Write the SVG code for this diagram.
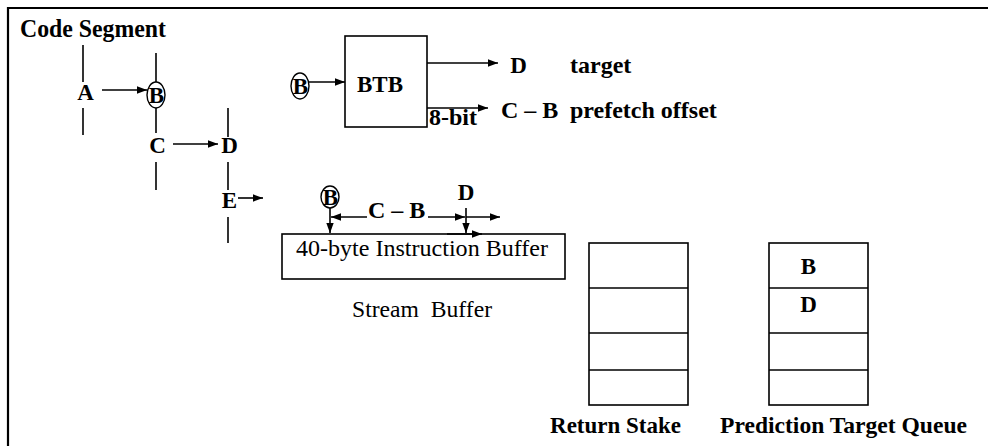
<svg xmlns="http://www.w3.org/2000/svg" width="988" height="446" viewBox="0 0 988 446">
<style>
.ln{stroke:#000;stroke-width:1.6;fill:none}
.ar{stroke:#000;stroke-width:1.6;fill:none;marker-end:url(#ah)}
.bx{stroke:#000;stroke-width:1.6;fill:#fff}
.el{stroke:#000;stroke-width:1.4;fill:none}
.b{font-family:"Liberation Serif","Times New Roman",serif;font-weight:bold;font-size:23px;fill:#000}
.c{text-anchor:middle}
.r{font-family:"Liberation Serif","Times New Roman",serif;font-size:24px;fill:#000}
</style>
<defs>
<marker id="ah" markerWidth="11" markerHeight="9" refX="10" refY="4.5" orient="auto" markerUnits="userSpaceOnUse">
<path d="M0,0.8 L10,4.5 L0,8.2 Z" fill="#000"/>
</marker>
</defs>
<rect width="988" height="446" fill="#fff"/>
<path d="M8,446 L8,8 L988,8" stroke="#000" stroke-width="2.2" fill="none"/>

<g id="code-segment">
<text class="b" x="20" y="37" style="font-size:25px" textLength="146" lengthAdjust="spacingAndGlyphs">Code Segment</text>
<line class="ln" x1="83" y1="45" x2="83" y2="82"/>
<line class="ln" x1="83" y1="108" x2="83" y2="135"/>
<text class="b c" x="85.5" y="100">A</text>
<line class="ln" x1="156" y1="53" x2="156" y2="82"/>
<line class="ln" x1="156" y1="108" x2="156" y2="133"/>
<ellipse class="el" cx="156" cy="95" rx="9" ry="13"/>
<text class="b c" x="156.5" y="103">B</text>
<text class="b c" x="157.5" y="153">C</text>
<line class="ln" x1="156" y1="162" x2="156" y2="190"/>
<line class="ln" x1="228" y1="108" x2="228" y2="137"/>
<text class="b c" x="229.5" y="153">D</text>
<line class="ln" x1="228" y1="162" x2="228" y2="190"/>
<text class="b c" x="229.5" y="208">E</text>
<line class="ln" x1="228" y1="217" x2="228" y2="243"/>
</g>

<g id="btb">
<ellipse class="el" cx="300" cy="86" rx="9" ry="13"/>
<text class="b c" x="300.5" y="94">B</text>
<rect class="bx" x="345" y="36" width="82" height="91"/>
<text class="b" x="357" y="92" textLength="46" lengthAdjust="spacingAndGlyphs">BTB</text>
<text class="b c" x="518.5" y="73">D</text>
<text class="b" x="570" y="73" style="font-size:24px">target</text>
<text class="b" x="429" y="125" style="font-size:24px">8-bit</text>
<text class="b" x="501" y="118" style="font-size:24px">C – B</text>
<text class="b" x="570" y="118" style="font-size:24px">prefetch offset</text>
</g>

<g id="stream-buffer">
<ellipse class="el" cx="330" cy="197" rx="9" ry="11"/>
<text class="b c" x="330.5" y="205">B</text>
<text class="b" x="368" y="218" style="font-size:24px">C – B</text>
<text class="b c" x="466" y="200">D</text>
<rect class="bx" x="282" y="234" width="283" height="45"/>
<text class="r" x="296" y="256" textLength="252" lengthAdjust="spacingAndGlyphs">40-byte Instruction Buffer</text>
<text class="r" x="352" y="317" textLength="140" lengthAdjust="spacingAndGlyphs" xml:space="preserve">Stream  Buffer</text>
</g>

<g id="return-stake">
<rect class="bx" x="589" y="243" width="99" height="162"/>
<line class="ln" x1="589" y1="288" x2="688" y2="288"/>
<line class="ln" x1="589" y1="333" x2="688" y2="333"/>
<line class="ln" x1="589" y1="370" x2="688" y2="370"/>
<text class="b" x="681" y="433" style="text-anchor:end">Return Stake</text>
</g>

<g id="prediction-target-queue">
<rect class="bx" x="769" y="243" width="99" height="162"/>
<line class="ln" x1="769" y1="288" x2="868" y2="288"/>
<line class="ln" x1="769" y1="333" x2="868" y2="333"/>
<line class="ln" x1="769" y1="370" x2="868" y2="370"/>
<text class="b c" x="808.5" y="274">B</text>
<text class="b c" x="808.5" y="312">D</text>
<text class="b" x="720" y="433" textLength="247" lengthAdjust="spacingAndGlyphs">Prediction Target Queue</text>
</g>

<g id="connectors">
<line class="ar" x1="102" y1="90" x2="147" y2="90"/>
<line class="ar" x1="173" y1="144" x2="218" y2="144"/>
<line class="ar" x1="238" y1="198" x2="263" y2="198"/>
<line class="ar" x1="309" y1="82" x2="345" y2="82"/>
<line class="ar" x1="427" y1="63" x2="498" y2="63"/>
<line class="ar" x1="427" y1="108" x2="488" y2="108"/>
<line class="ar" x1="330" y1="208" x2="330" y2="233"/>
<line class="ar" x1="367" y1="217" x2="331" y2="217"/>
<line class="ar" x1="428" y1="217" x2="465" y2="217"/>
<line class="ar" x1="466" y1="208" x2="466" y2="233"/>
<line class="ar" x1="466" y1="217" x2="500" y2="217"/>
<line class="ar" x1="447" y1="234" x2="482" y2="234"/>
</g>
</svg>
